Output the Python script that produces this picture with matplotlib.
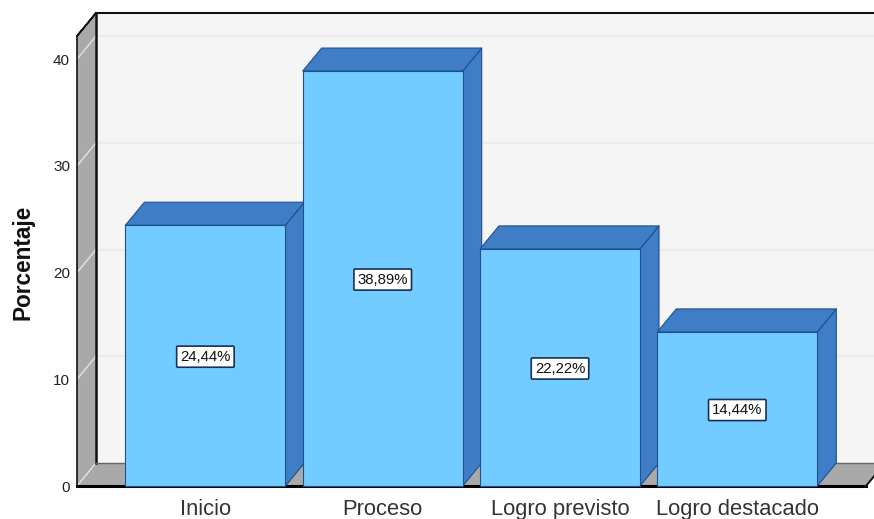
import matplotlib
matplotlib.use("Agg")
import matplotlib.pyplot as plt
from matplotlib.patches import Polygon

plt.rcParams['font.family'] = ['Liberation Sans', 'DejaVu Sans']

categories = ["Inicio", "Proceso", "Logro previsto", "Logro destacado"]
values = [24.44, 38.89, 22.22, 14.44]
value_labels = ["24,44%", "38,89%", "22,22%", "14,44%"]
y_ticks = [0, 10, 20, 30, 40]

W, H = 874, 519
BAR_FACE = "#73CCFF"
BAR_DARK = "#3F7EC6"
BAR_EDGE = "#1F4F8F"
WALL = "#A9A9A9"
BACK = "#F5F5F5"
GRID = "#EBEBEB"

# depth of the fake 3d box, in data units
dx = 19 / 177.3
dy = 23 / 10.67
width = 160 / 177.3

fig = plt.figure(figsize=(W / 100, H / 100), dpi=100)
ax = fig.add_axes([77 / W, (H - 486) / H, (866 - 77) / W, (486 - 36) / H])
x0, x1 = (77 - 205.4) / 177.3, (866 - 205.4) / 177.3
y1 = (486 - 36) / 10.67
ax.set_xlim(x0, x1)
ax.set_ylim(0, y1)
for s in ax.spines.values():
    s.set_visible(False)
ax.patch.set_visible(False)


def poly(pts, face, edge="none", lw=0.0, z=1):
    ax.add_patch(Polygon(pts, closed=True, facecolor=face, edgecolor=edge,
                         linewidth=lw, zorder=z, clip_on=False, joinstyle="round"))


# back wall, left wall, floor
poly([(x0 + dx, dy), (x1 + dx, dy), (x1 + dx, y1 + dy), (x0 + dx, y1 + dy)], BACK, z=1)
poly([(x0, 0), (x0 + dx, dy), (x0 + dx, y1 + dy), (x0, y1)], WALL, z=1)
poly([(x0, 0), (x1, 0), (x1 + dx, dy), (x0 + dx, dy)], WALL, z=1)

for t in y_ticks[1:]:
    ax.plot([x0 + dx, x1 + dx], [t + dy, t + dy], color=GRID, lw=1.6, zorder=2, clip_on=False)
for t in y_ticks:
    ax.plot([x0, x0 + dx], [t, t + dy], color="#E4E4E4", lw=1.0, zorder=2, clip_on=False)

# box outline
ax.plot([x0 + dx, x1 + dx], [y1 + dy, y1 + dy], color="#111111", lw=1.5, zorder=3, clip_on=False)
ax.plot([x0, x0, x0 + dx, x0], [0, y1, y1 + dy, y1], color="#111111", lw=1.2, zorder=3, clip_on=False)
ax.plot([x0 + dx, x0 + dx], [dy, y1 + dy], color="#111111", lw=1.8, zorder=3, clip_on=False)
ax.plot([x0 + dx, x1 + dx], [dy, dy], color="#666666", lw=1.0, zorder=3, clip_on=False)
ax.plot([x0, x1], [0, 0], color="#000000", lw=2.2, zorder=3, clip_on=False)
ax.plot([x1, x1 + dx], [0, dy], color="#111111", lw=1.4, zorder=3, clip_on=False)

# bars
pos = list(range(len(categories)))
for i, v, lab in zip(pos, values, value_labels):
    l, r = i - width / 2, i + width / 2
    poly([(r, 0), (r + dx, dy), (r + dx, v + dy), (r, v)], BAR_DARK, BAR_EDGE, 0.8, z=4)
    poly([(l, v), (r, v), (r + dx, v + dy), (l + dx, v + dy)], BAR_DARK, BAR_EDGE, 0.8, z=4)
    ax.text(i, v / 2 - 0.1, lab, ha="center", va="center", fontsize=10.7, color="#111111", zorder=6,
            bbox=dict(boxstyle="round,pad=0.24,rounding_size=0.08", facecolor="white", edgecolor="#15305A", linewidth=1.2))
ax.bar(pos, values, width=width, color=BAR_FACE, edgecolor=BAR_EDGE, linewidth=0.8, zorder=5, clip_on=False)

ax.set_xticks(pos)
ax.set_xticklabels(categories, fontsize=15.8, color="#333333")
ax.set_yticks(y_ticks)
ax.set_yticklabels([str(t) for t in y_ticks], fontsize=11, color="#222222")
ax.tick_params(axis="x", length=0, pad=9.5)
ax.tick_params(axis="y", length=0, pad=5)
ax.set_ylabel("Porcentaje", fontsize=16.3, fontweight="bold", color="#111111")
ax.yaxis.set_label_coords(-(77 - 35) / (866 - 77), (486 - 262) / (486 - 36))

fig.savefig("out.png", dpi=100)
